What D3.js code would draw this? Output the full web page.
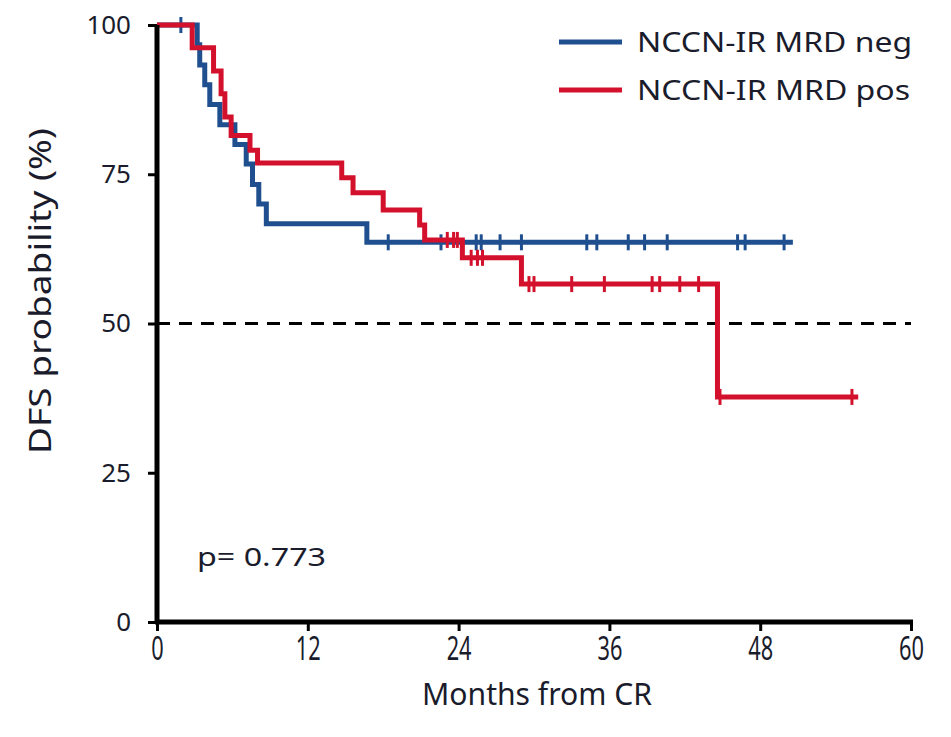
<!DOCTYPE html>
<html>
<head>
<meta charset="utf-8">
<script src="https://cdn.jsdelivr.net/npm/d3@7"></script>
<style>
  html, body { margin: 0; padding: 0; background: #fff; }
  svg { display: block; }
</style>
</head>
<body>
<svg id="chart" width="951" height="737"></svg>
<script>
// ---- data ----
const xTicks = [0, 12, 24, 36, 48, 60];
const yTicks = [0, 25, 50, 75, 100];

const negEventTimes = [3.2, 3.4, 3.8, 4.2, 5.0, 6.2, 7.1, 7.6, 8.1, 8.7, 16.7];
const negEventSurv  = [96.7, 93.3, 90.0, 86.7, 83.3, 80.0, 76.7, 73.3, 70.0, 66.7, 63.6];
const negCensorTimes = [1.9, 18.4, 22.6, 25.4, 25.8, 27.3, 29.0, 34.2, 35.0, 37.5, 38.8, 40.6, 46.2, 46.8, 49.9];
const negEnd = 50.6;

const posEventTimes = [2.8, 4.5, 5.1, 5.4, 5.9, 7.4, 8.0, 14.7, 15.6, 18.0, 20.9, 21.3, 24.3, 29.0, 44.6];
const posEventSurv  = [96.2, 92.3, 88.5, 84.6, 81.5, 79.0, 76.9, 74.4, 71.9, 69.0, 66.5, 64.0, 61.0, 56.6, 37.7];
const posCensorTimes = [23.1, 23.6, 23.9, 25.0, 25.5, 25.9, 29.6, 30.0, 33.0, 35.6, 39.4, 40.0, 41.6, 43.1, 44.8, 55.3];
const posEnd = 55.8;

const seriesNames = ["NCCN-IR MRD neg", "NCCN-IR MRD pos"];
const seriesColors = ["#1f4f8f", "#d4112d"];
const pValueText = "p= 0.773";

// ---- chart ----
const svg = d3.select("#chart");
const x = d3.scaleLinear().domain([0, 60]).range([157, 911]);
const y = d3.scaleLinear().domain([0, 100]).range([622, 25]);
const textColor = "#1a1c2c";
const sansWide = "'Noto Sans', 'Open Sans', sans-serif";

function stepPoints(times, surv, end) {
  const pts = [[0, 100]];
  times.forEach((t, i) => pts.push([t, surv[i]]));
  pts.push([end, surv[surv.length - 1]]);
  return pts;
}
function survAt(times, surv, t) {
  let s = 100;
  times.forEach((tt, i) => { if (tt <= t) s = surv[i]; });
  return s;
}

// dashed median line
svg.append("line")
  .attr("x1", x(0)).attr("x2", x(60))
  .attr("y1", y(50)).attr("y2", y(50))
  .attr("stroke", "#000").attr("stroke-width", 3)
  .attr("stroke-dasharray", "13,9");

const line = d3.line().x(d => x(d[0])).y(d => y(d[1])).curve(d3.curveStepAfter);

const groups = [
  { times: negEventTimes, surv: negEventSurv, cens: negCensorTimes, end: negEnd, color: seriesColors[0] },
  { times: posEventTimes, surv: posEventSurv, cens: posCensorTimes, end: posEnd, color: seriesColors[1] }
];

groups.forEach(g => {
  svg.append("path")
    .datum(stepPoints(g.times, g.surv, g.end))
    .attr("d", line)
    .attr("fill", "none")
    .attr("stroke", g.color)
    .attr("stroke-width", 5)
    .attr("stroke-linejoin", "miter");
  svg.selectAll(null)
    .data(g.cens)
    .enter().append("line")
    .attr("x1", d => x(d)).attr("x2", d => x(d))
    .attr("y1", d => y(survAt(g.times, g.surv, d)) - 8)
    .attr("y2", d => y(survAt(g.times, g.surv, d)) + 8)
    .attr("stroke", g.color).attr("stroke-width", 3);
});

// axes
const yAxis = d3.axisLeft(y).tickValues(yTicks).tickSize(9).tickPadding(17).tickSizeOuter(0);
const xAxis = d3.axisBottom(x).tickValues(xTicks).tickSize(9).tickPadding(6).tickSizeOuter(0);

const gy = svg.append("g").attr("transform", `translate(${x(0)},0)`).call(yAxis);
gy.select(".domain").attr("stroke", "#000").attr("stroke-width", 5)
  .attr("d", `M0,${y(0) + 2}V${y(100)}`);
gy.selectAll(".tick line").attr("stroke", "#000").attr("stroke-width", 3);
gy.selectAll(".tick text")
  .attr("font-family", sansWide)
  .attr("font-size", 26).attr("fill", textColor);

const gx = svg.append("g").attr("transform", `translate(0,${y(0)})`).call(xAxis);
gx.select(".domain").attr("stroke", "#000").attr("stroke-width", 5)
  .attr("d", `M${x(0) - 2},0H${x(60) + 2}`);
gx.selectAll(".tick line").attr("stroke", "#000").attr("stroke-width", 3);
gx.selectAll(".tick text")
  .attr("font-family", sansWide)
  .attr("font-size", 33).attr("fill", textColor)
  .attr("transform", "scale(0.66,1)");

// axis titles (condensed look via textLength)
svg.append("text")
  .attr("transform", `translate(51,${291}) rotate(-90)`)
  .attr("text-anchor", "middle")
  .attr("font-family", sansWide)
  .attr("font-size", 31).attr("fill", textColor)
  .attr("textLength", 326).attr("lengthAdjust", "spacingAndGlyphs")
  .text("DFS probability (%)");

svg.append("text")
  .attr("x", 537).attr("y", 705)
  .attr("text-anchor", "middle")
  .attr("font-family", sansWide)
  .attr("font-size", 31).attr("fill", textColor)
  .attr("textLength", 230).attr("lengthAdjust", "spacingAndGlyphs")
  .text("Months from CR");

// p value
svg.append("text")
  .attr("x", 197).attr("y", 566)
  .attr("font-family", sansWide)
  .attr("font-size", 25).attr("fill", textColor)
  .attr("textLength", 129).attr("lengthAdjust", "spacingAndGlyphs")
  .text(pValueText);

// legend
const legendLengths = [275, 273];
seriesNames.forEach((name, i) => {
  const ly = 42 + i * 48;
  svg.append("line")
    .attr("x1", 559).attr("x2", 622).attr("y1", ly).attr("y2", ly)
    .attr("stroke", seriesColors[i]).attr("stroke-width", 5);
  svg.append("text")
    .attr("x", 637).attr("y", ly + 10)
    .attr("font-family", sansWide)
    .attr("font-size", 28).attr("fill", textColor)
    .attr("textLength", legendLengths[i]).attr("lengthAdjust", "spacingAndGlyphs")
    .text(name);
});
</script>
</body>
</html>
